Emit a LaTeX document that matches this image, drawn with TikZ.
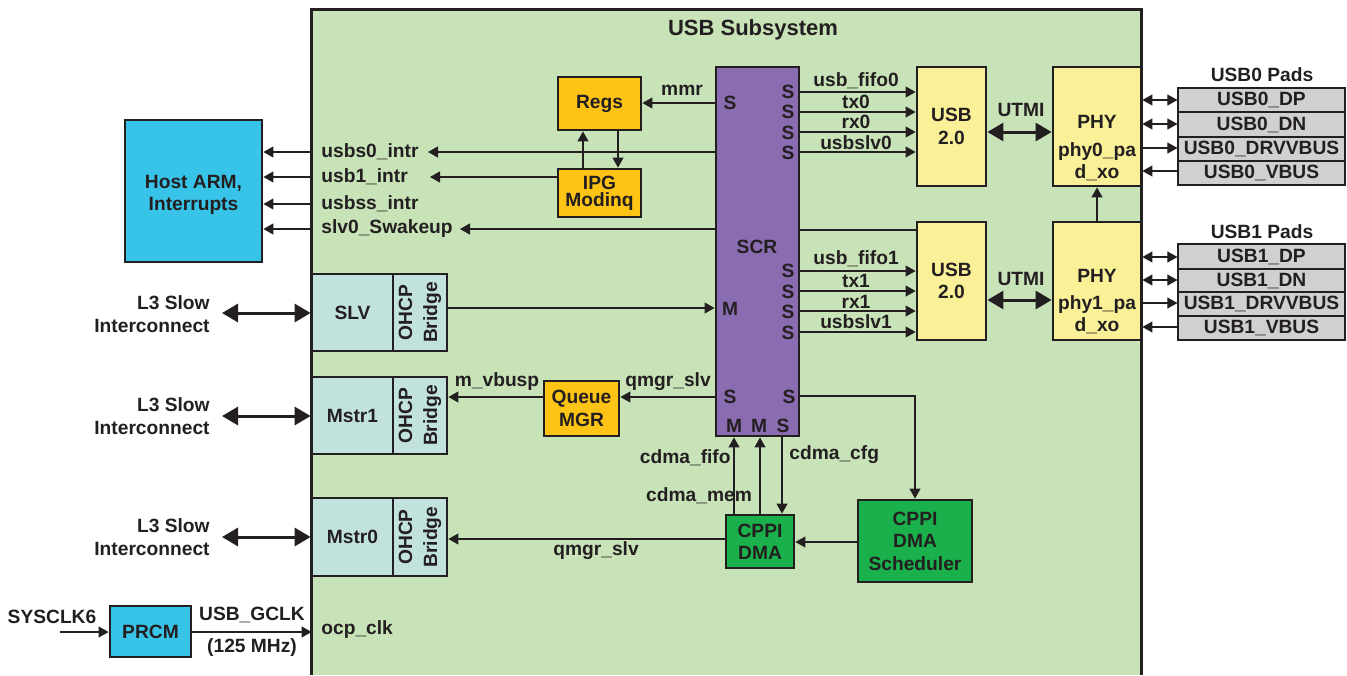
\documentclass[tikz,border=0pt]{standalone}
\usepackage{fontspec}
\setmainfont{Liberation Sans}
\usetikzlibrary{arrows.meta,fit}
\definecolor{tc}{RGB}{35,31,32}
\definecolor{gbg}{RGB}{201,227,185}
\definecolor{cyanb}{RGB}{56,195,232}
\definecolor{orng}{RGB}{253,195,21}
\definecolor{purp}{RGB}{138,108,176}
\definecolor{yel}{RGB}{250,240,152}
\definecolor{lcyan}{RGB}{194,226,222}
\definecolor{grn}{RGB}{26,176,75}
\definecolor{padg}{RGB}{208,208,208}
\newcommand\lblfont{\fontsize{9.6}{11.2}\selectfont\bfseries}
% #1 name, #2 box style, #3 corners, #4 text options, #5 text
\newcommand\blkbox[5]{%
  \node[#2, fit={#3}] (#1) {};
  \node[#4] (#1t) at (#1.center) {#5};}
\begin{document}
\begin{tikzpicture}[x=0.5pt,y=-0.5pt,
  every node/.style={inner sep=0pt, text=tc, font=\lblfont, align=center},
  blk/.style={draw=tc, line width=1.4pt},
  arr/.style={draw=tc, line width=0.55pt, -{Triangle[length=5pt,width=5.5pt]}},
  barr/.style={draw=tc, line width=0.55pt, {Triangle[length=5pt,width=5.5pt]}-{Triangle[length=5pt,width=5.5pt]}},
  dbl/.style={draw=tc, line width=1.5pt, {Triangle[length=8pt,width=9pt]}-{Triangle[length=8pt,width=9pt]}},
  plain/.style={draw=tc, line width=0.55pt},
  padrow/.style={draw=tc, line width=0.6pt, fill=padg},
  padframe/.style={draw=tc, line width=1.4pt},
  bridgetxt/.style={rotate=90, font=\fontsize{9.6}{12.5}\selectfont\bfseries}]
\useasboundingbox (0,0) rectangle (1347,675);

% subsystem container
\node[fill=gbg, fit={(312,10)(1141,675)}] (sub) {};
\draw[line width=1.5pt, draw=tc] (sub.south west) -- (sub.north west) -- (sub.north east) -- (sub.south east);
\node (subt) at (753,30) {\fontsize{11}{13}\selectfont\bfseries USB Subsystem};

% Host ARM
\blkbox{host}{blk,fill=cyanb}{(125,120)(262,262)}{yshift=-2pt}{Host ARM,\\Interrupts}
\foreach \yy in {152,177,204,229}{
  \draw[arr] (sub.west |- 0,\yy) -- (host.east |- 0,\yy);
}
\node[anchor=west] (lb1) at (321,152) {usbs0\_intr};
\node[anchor=west] (lb2) at (321,177) {usb1\_intr};
\node[anchor=west] (lb3) at (321,204) {usbss\_intr};
\node[anchor=west] (lb4) at (321,229) {slv0\_Swakeup};

% SCR
\node[blk, fill=purp, fit={(716,67)(799,436)}] (scr) {};
\node (scrt) at (757,247) {SCR};
\node (ps0) at (730,103) {S};
\node (ps1) at (788,92) {S};
\node (ps2) at (788,112) {S};
\node (ps3) at (788,133) {S};
\node (ps4) at (788,153) {S};
\node (ps5) at (788,271) {S};
\node (ps6) at (788,292) {S};
\node (ps7) at (788,312) {S};
\node (ps8) at (788,333) {S};
\node (pm0) at (730,309) {M};
\node (ps9) at (730,397) {S};
\node (ps10) at (789,397) {S};
\node (pm1) at (734,426) {M};
\node (pm2) at (759,426) {M};
\node (ps11) at (783,426) {S};

% interrupt lines
\coordinate (i0) at (428,152);
\coordinate (i1) at (430,177);
\coordinate (i3) at (460,229);
\draw[arr] (scr.west |- i0) -- (i0);
\draw[arr] (scr.west |- i3) -- (i3);

% Regs and IPG
\blkbox{regs}{blk,fill=orng}{(558,77)(641,130)}{}{Regs}
\blkbox{ipg}{blk,fill=orng}{(558,169)(641,217)}{font=\fontsize{9.6}{8.6}\selectfont\bfseries}{IPG\\Modinq}
\draw[arr] (ipg.west |- i1) -- (i1);
\draw[arr] (ipg.north -| 583,0) -- (regs.south -| 583,0);
\draw[arr] (regs.south -| 618,0) -- (ipg.north -| 618,0);
\draw[arr] (scr.west |- 0,103) -- (regs.east |- 0,103);
\node (mmr) at (682,90) {mmr};

% USB 2.0 blocks
\blkbox{usb0}{blk,fill=yel}{(917,67)(986,186)}{}{USB\\2.0}
\blkbox{usb1}{blk,fill=yel}{(917,222)(986,340)}{}{USB\\2.0}
\foreach \yy in {92,112,132,152,271,291,311,332}{
  \draw[arr] (scr.east |- 0,\yy) -- (usb0.west |- 0,\yy);
}
\draw[plain] (scr.east |- 0,230) -- (usb1.west |- 0,230);
\node (f0) at (856,81) {usb\_fifo0};
\node (t0) at (856,102) {tx0};
\node (r0) at (856,122) {rx0};
\node (s0) at (856,143) {usbslv0};
\node (f1) at (856,259) {usb\_fifo1};
\node (t1) at (856,281) {tx1};
\node (r1) at (856,302) {rx1};
\node (s1) at (856,322) {usbslv1};

% PHY blocks
\node[blk, fill=yel, fit={(1053,67)(1141,186)}] (phy0) {};
\node (phy0t) at (1097,122) {PHY};
\node (phy0p) at (1097,162) {phy0\_pa\\d\_xo};
\node[blk, fill=yel, fit={(1053,222)(1141,340)}] (phy1) {};
\node (phy1t) at (1097,276) {PHY};
\node (phy1p) at (1097,315) {phy1\_pa\\d\_xo};
\draw[arr] (phy1.north) -- (phy0.south);
\draw[dbl] (usb0.east |- 0,132) -- (phy0.west |- 0,132);
\draw[dbl] (usb1.east |- 0,300) -- (phy1.west |- 0,300);
\node (ut0) at (1021,110) {UTMI};
\node (ut1) at (1021,279) {UTMI};

% USB0 pads
\node (pt0) at (1262,75) {USB0 Pads};
\blkbox{p0a}{padrow}{(1178,88)(1345,112)}{}{USB0\_DP}
\blkbox{p0b}{padrow}{(1178,112)(1345,137)}{}{USB0\_DN}
\blkbox{p0c}{padrow}{(1178,137)(1345,161)}{}{USB0\_DRVVBUS}
\blkbox{p0d}{padrow}{(1178,161)(1345,185)}{}{USB0\_VBUS}
\node[padframe, fit={(1178,88)(1345,185)}] (p0f) {};
\draw[barr] (phy0.east |- 0,100) -- (p0a.west |- 0,100);
\draw[barr] (phy0.east |- 0,124) -- (p0b.west |- 0,124);
\draw[arr] (phy0.east |- 0,148) -- (p0c.west |- 0,148);
\draw[arr] (p0d.west |- 0,171) -- (phy0.east |- 0,171);

% USB1 pads
\node (pt1) at (1262,232) {USB1 Pads};
\blkbox{p1a}{padrow}{(1178,244)(1345,269)}{}{USB1\_DP}
\blkbox{p1b}{padrow}{(1178,269)(1345,292)}{}{USB1\_DN}
\blkbox{p1c}{padrow}{(1178,292)(1345,316)}{}{USB1\_DRVVBUS}
\blkbox{p1d}{padrow}{(1178,316)(1345,340)}{}{USB1\_VBUS}
\node[padframe, fit={(1178,244)(1345,340)}] (p1f) {};
\draw[barr] (phy1.east |- 0,257) -- (p1a.west |- 0,257);
\draw[barr] (phy1.east |- 0,280) -- (p1b.west |- 0,280);
\draw[arr] (phy1.east |- 0,303) -- (p1c.west |- 0,303);
\draw[arr] (p1d.west |- 0,327) -- (phy1.east |- 0,327);

% L3 interfaces
\blkbox{slv}{blk,fill=lcyan}{(312,274)(393,351)}{}{SLV}
\blkbox{slvb}{blk,fill=lcyan}{(393,274)(447,351)}{bridgetxt}{OHCP\\Bridge}
\blkbox{m1}{blk,fill=lcyan}{(312,377)(393,454)}{}{Mstr1}
\blkbox{m1b}{blk,fill=lcyan}{(393,377)(447,454)}{bridgetxt}{OHCP\\Bridge}
\blkbox{m0}{blk,fill=lcyan}{(312,498)(393,576)}{}{Mstr0}
\blkbox{m0b}{blk,fill=lcyan}{(393,498)(447,576)}{bridgetxt}{OHCP\\Bridge}

\node[anchor=east, align=right] (l3a) at (210,314) {L3 Slow\\Interconnect};
\node[anchor=east, align=right] (l3b) at (210,416) {L3 Slow\\Interconnect};
\node[anchor=east, align=right] (l3c) at (210,537) {L3 Slow\\Interconnect};
\coordinate (l3ae) at (222,313);
\coordinate (l3be) at (222,416);
\coordinate (l3ce) at (222,537);
\draw[dbl] (l3ae) -- (slv.west |- l3ae);
\draw[dbl] (l3be) -- (m1.west |- l3be);
\draw[dbl] (l3ce) -- (m0.west |- l3ce);

\draw[arr] (slvb.east |- 0,308) -- (scr.west |- 0,308);

% Queue MGR
\blkbox{qmgr}{blk,fill=orng}{(544,381)(619,436)}{}{Queue\\MGR}
\draw[arr] (scr.west |- 0,397) -- (qmgr.east |- 0,397);
\draw[arr] (qmgr.west |- 0,397) -- (m1b.east |- 0,397);
\node (qs1) at (668,382) {qmgr\_slv};
\node (mvb) at (497,382) {m\_vbusp};

% CPPI DMA
\blkbox{cppi}{blk,fill=grn}{(726,515)(794,568)}{}{CPPI\\DMA}
\blkbox{sched}{blk,fill=grn}{(858,500)(972,582)}{}{CPPI\\DMA\\Scheduler}
\draw[arr] (cppi.north -| 734,0) -- (scr.south -| 734,0);
\draw[arr] (cppi.north -| 760,0) -- (scr.south -| 760,0);
\draw[arr] (scr.south -| 782,0) -- (cppi.north -| 782,0);
\draw[arr] (scr.east |- 0,396) -| (sched.north);
\draw[arr] (sched.west |- 0,542) -- (cppi.east |- 0,542);
\draw[arr] (cppi.west |- 0,539) -- (m0b.east |- 0,539);
\node[anchor=east] (cfifo) at (731,458) {cdma\_fifo};
\node (cmem) at (699,496) {cdma\_mem};
\node[anchor=west] (ccfg) at (789,455) {cdma\_cfg};
\node (qs2) at (596,551) {qmgr\_slv};

% PRCM
\blkbox{prcm}{blk,fill=cyanb}{(110,606)(191,657)}{}{PRCM}
\coordinate (sysin) at (60,632);
\draw[arr] (sysin) -- (prcm.west |- sysin);
\draw[arr] (prcm.east |- sysin) -- (sub.west |- sysin);
\node (sysclk) at (52,617) {SYSCLK6};
\node (gclk) at (252,615) {USB\_GCLK};
\node (mhz) at (252,648) {(125 MHz)};
\node[anchor=west] (ocp) at (321,630) {ocp\_clk};
\end{tikzpicture}
\end{document}
